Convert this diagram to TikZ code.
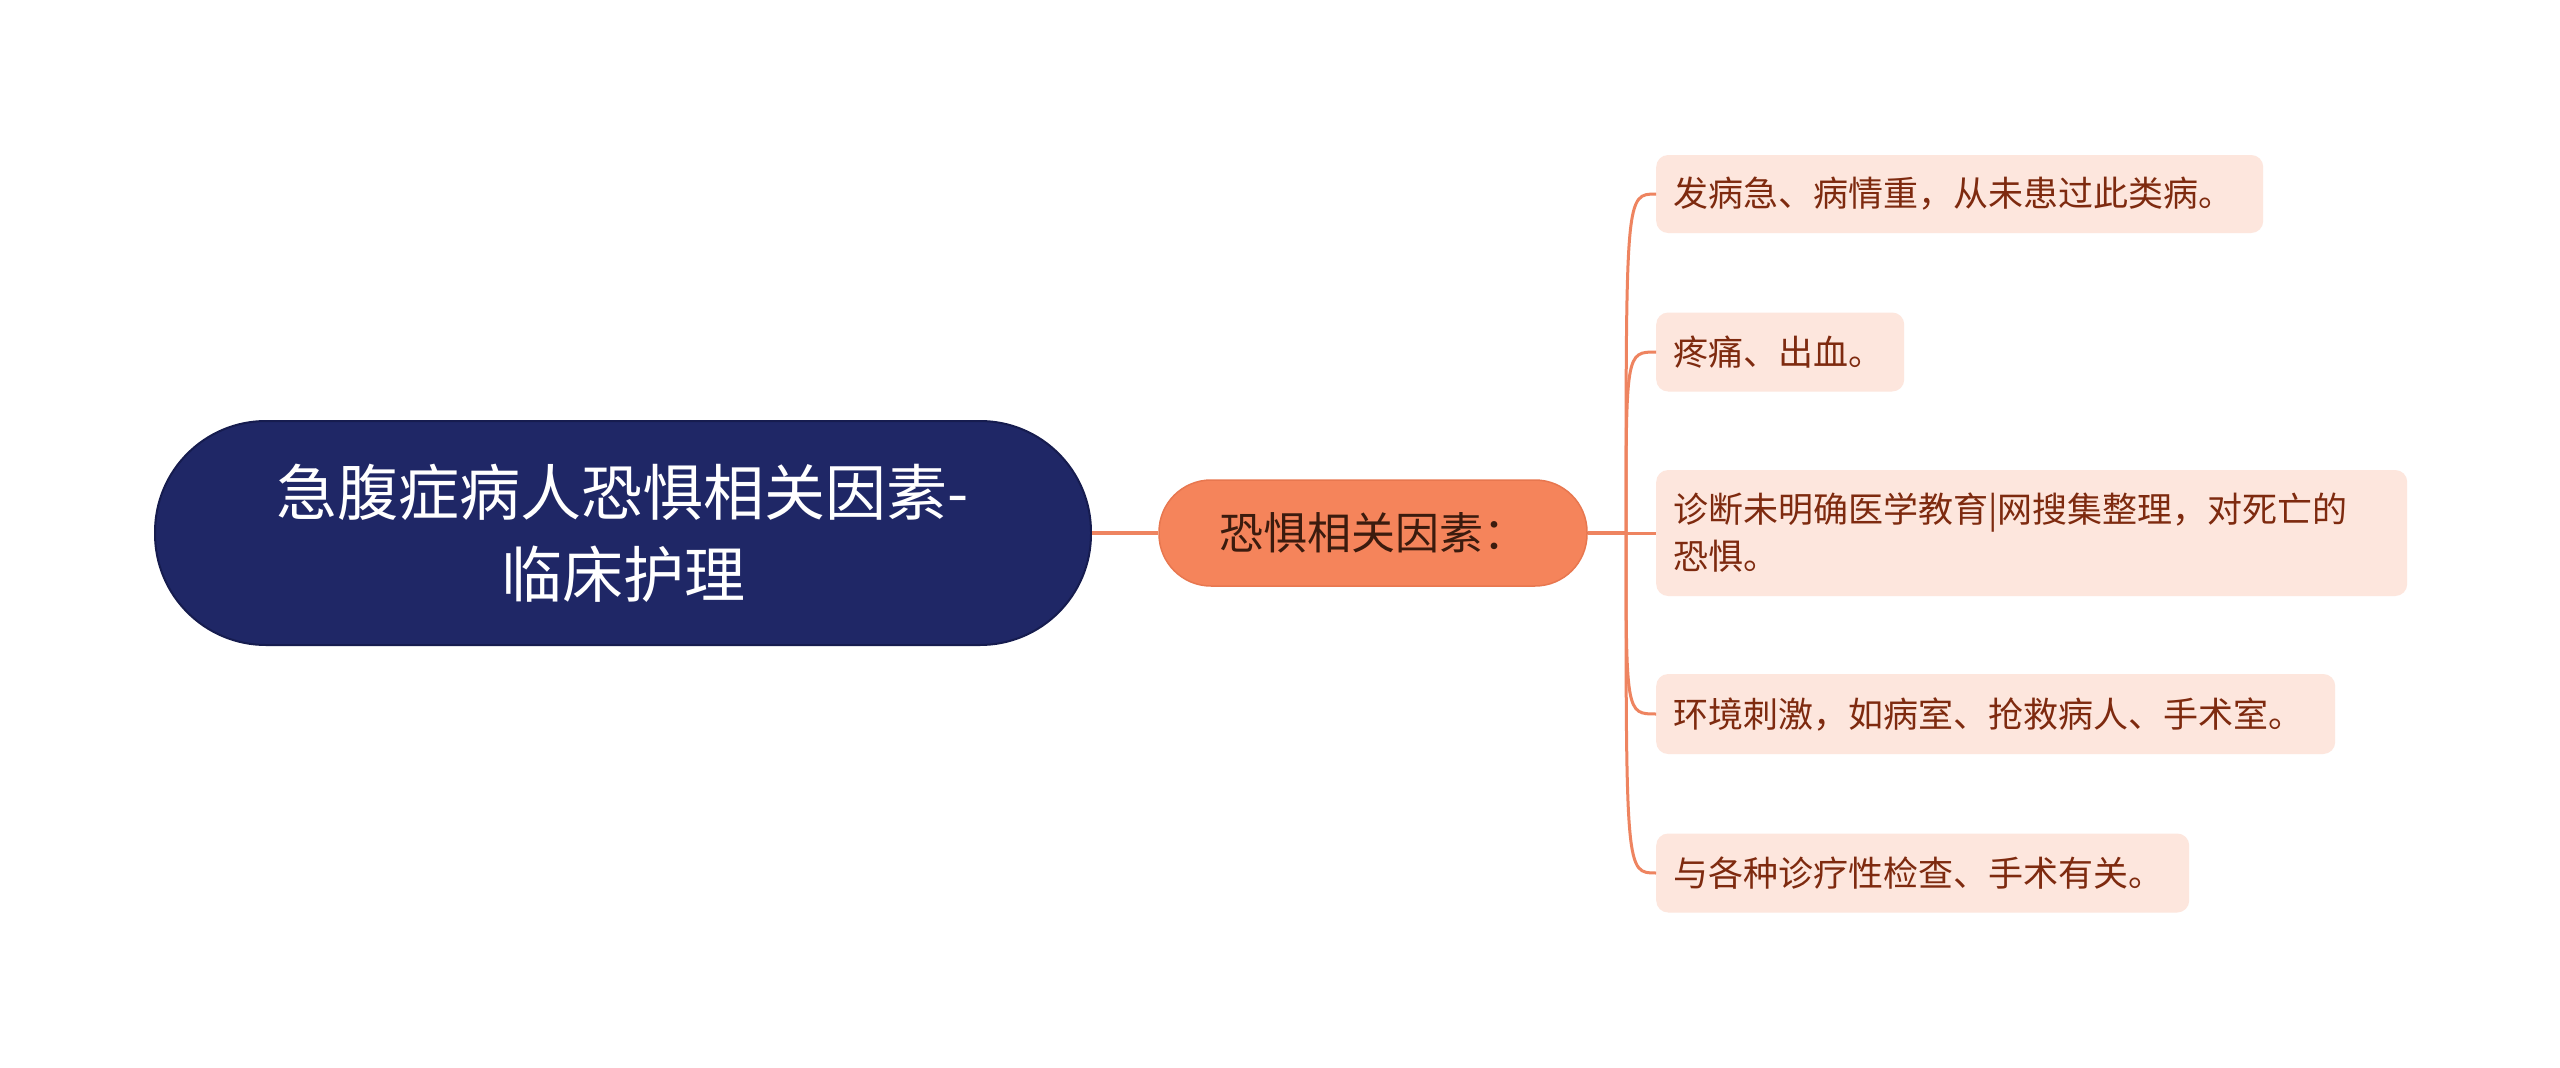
\documentclass[tikz,border=0pt]{standalone}
\usepackage{fontspec}
\setmainfont{Noto Sans CJK SC}
\definecolor{rootfill}{HTML}{1F2766}
\definecolor{rootdraw}{HTML}{161C4F}
\definecolor{midfill}{HTML}{F5845B}
\definecolor{middraw}{HTML}{E8774F}
\definecolor{midtext}{HTML}{3B1B0E}
\definecolor{leaffill}{HTML}{FDE6DD}
\definecolor{leaftext}{HTML}{7E2A0F}
\definecolor{linec}{HTML}{EE8460}
\tikzset{
  rootbox/.style={draw=rootdraw, line width=2pt, fill=rootfill, text=white, rounded corners=111pt,
    minimum width=936pt, minimum height=224pt, align=center, inner sep=0pt,
    font=\fontsize{61}{82}\selectfont},
  midbox/.style={draw=middraw, line width=1.5pt, fill=midfill, text=midtext, rounded corners=52pt,
    minimum width=428pt, minimum height=106pt, align=center, inner sep=0pt,
    font=\fontsize{44}{50}\selectfont},
  leafbox/.style={fill=leaffill, text=leaftext, rounded corners=12pt, anchor=west,
    inner xsep=17pt, inner ysep=0pt, align=left,
    font=\fontsize{35}{47}\selectfont},
  conn/.style={draw=linec, line width=4pt}
}
\begin{document}
\begin{tikzpicture}[x=1pt,y=-1pt]
\useasboundingbox (0,0) rectangle (2560,1068);
\fill[white] (0,0) rectangle (2560,1068);
\node[rootbox] (root) at (623,533) {急腹症病人恐惧相关因素-\\临床护理};
\node[midbox] (mid) at (1373,533) {恐惧相关因素：};
\node[leafbox, text width=573pt, minimum height=78pt] (l1) at (1656,194) {发病急、病情重，从未患过此类病。};
\node[leafbox, text width=214pt, minimum height=79pt] (l2) at (1656,352) {疼痛、出血。};
\node[leafbox, text width=717pt, minimum height=126pt] (l3) at (1656,533) {诊断未明确医学教育|网搜集整理，对死亡的\\恐惧。};
\node[leafbox, text width=645pt, minimum height=80pt] (l4) at (1656,714) {环境刺激，如病室、抢救病人、手术室。};
\node[leafbox, text width=499pt, minimum height=79pt] (l5) at (1656,873) {与各种诊疗性检查、手术有关。};
\coordinate (j) at (1626,533);
\draw[conn] (root.east) -- (mid.west);
\draw[conn] (mid.east) -- (j);
\foreach \l in {l1,l2,l3,l4,l5}{
  \draw[conn, line width=3pt] (j) .. controls (j |- \l.west) and (j |- \l.west) .. (\l.west);
}
\end{tikzpicture}
\end{document}
